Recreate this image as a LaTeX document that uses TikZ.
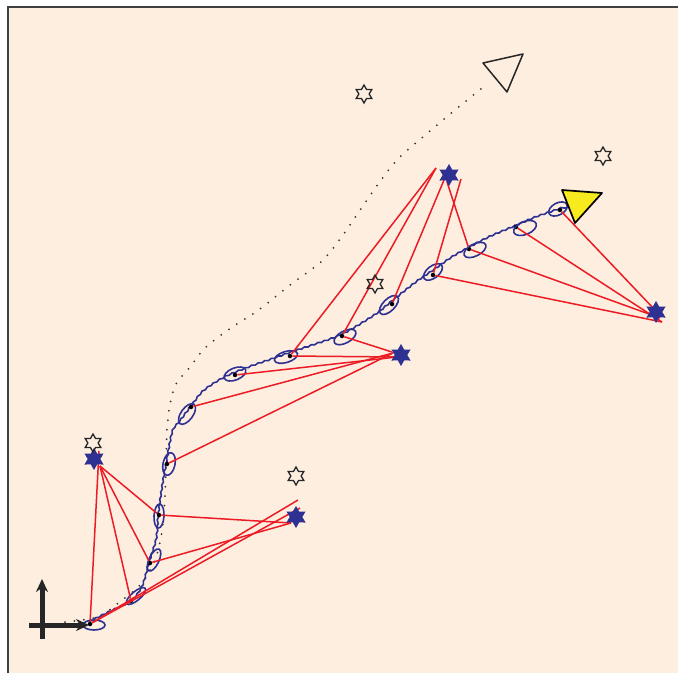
\documentclass[tikz,border=0pt]{standalone}
\usetikzlibrary{shapes.geometric,arrows.meta,decorations.pathmorphing}
\definecolor{peach}{RGB}{253,238,224}
\definecolor{trajblue}{RGB}{46,49,146}
\definecolor{rayred}{RGB}{237,28,36}
\definecolor{robyellow}{RGB}{247,234,31}
\definecolor{framegray}{RGB}{64,64,64}
\tikzset{
	pose/.style={circle,fill=black,inner sep=0pt,minimum size=4.5pt},
	lmark/.style={star,star points=6,star point ratio=1.75,fill=trajblue,draw=trajblue,line width=1pt,inner sep=0pt,minimum size=20pt},
	truelm/.style={star,star points=6,star point ratio=1.75,draw=black!85,line width=1.3pt,inner sep=0pt,minimum size=18pt},
	ray/.style={rayred,line width=1.5pt},
	cov/.style={trajblue,line width=1.6pt},
	axarrow/.style={black!85,line width=5pt,-{Stealth[length=13pt,width=12pt]}},
}
\begin{document}
\begin{tikzpicture}[x=1pt,y=-1pt]
	\useasboundingbox (0,0) rectangle (678,673);
	\fill[peach] (8,7) rectangle (678,673);
	\draw[framegray,line width=2pt] (8,673) -- (8,7) -- (678,7);
	% odometry guess
	\draw[black!80,line width=2pt,line cap=round,dash pattern=on 0pt off 9.5pt] plot[smooth] coordinates {(65,622) (98,617) (117,604) (140,585) (155,560) (162,531) (165,497) (166,460) (167,429) (170,404) (176,384) (190,367) (204,349) (221,335) (240,322) (260,309) (290,285) (322,261) (343,235) (369,197) (396,161) (430,131) (455,110) (482,88)};
	% estimated path
	\draw[trajblue,line width=1.6pt,decorate,decoration={snake,amplitude=0.6pt,segment length=7pt}] plot[smooth] coordinates {(90,623) (110,613) (132,602) (143,587) (150,563) (157,540) (159,516) (163,487) (167,464) (173,433) (180,423) (192,407) (203,393) (217,383) (230,376) (250,368) (273,360) (293,353) (317,345) (337,338) (353,330) (377,315) (393,302) (417,283) (433,272) (453,258) (469,249) (490,238) (516,227) (537,218) (560,210) (568,207)};
	% poses
	\node[pose] at (90,624) (p1) {};
	\node[pose] at (131,601) (p2) {};
	\node[pose] at (150,563) (p3) {};
	\node[pose] at (159,515) (p4) {};
	\node[pose] at (167,464) (p5) {};
	\node[pose] at (191,407) (p6) {};
	\node[pose] at (235,375) (p7) {};
	\node[pose] at (290,356) (p8) {};
	\node[pose] at (342,336) (p9) {};
	\node[pose] at (392,304) (p10) {};
	\node[pose] at (433,275) (p11) {};
	\node[pose] at (469,249) (p12) {};
	\node[pose] at (516,227) (p13) {};
	\node[pose] at (560,210) (p14) {};
	% covariances
	\draw[cov] (94,625) ellipse (11 and 5);
	\draw[cov,rotate around={40:(136,596)}] (136,596) ellipse (12 and 4.5);
	\draw[cov,rotate around={65:(154,560)}] (154,560) ellipse (12 and 5);
	\draw[cov,rotate around={87:(159,516)}] (159,516) ellipse (12 and 5);
	\draw[cov,rotate around={78:(169,464)}] (169,464) ellipse (11.5 and 6);
	\draw[cov,rotate around={54:(187,414)}] (187,414) ellipse (12 and 6);
	\draw[cov,rotate around={22:(235,374)}] (235,374) ellipse (11.5 and 6);
	\draw[cov,rotate around={17:(286,357)}] (286,357) ellipse (12 and 5.5);
	\draw[cov,rotate around={28:(345,337)}] (345,337) ellipse (12 and 6);
	\draw[cov,rotate around={45:(389,305)}] (389,305) ellipse (12 and 6);
	\draw[cov,rotate around={38:(433,272)}] (433,272) ellipse (11 and 6);
	\draw[cov,rotate around={27:(475,250)}] (475,250) ellipse (12 and 6);
	\draw[cov,rotate around={22:(525,228)}] (525,228) ellipse (12 and 6.5);
	\draw[cov,rotate around={28:(558,209)}] (558,209) ellipse (10 and 6);
	% measured landmark ends
	\coordinate (m1a) at (99,451);
	\coordinate (m1b) at (100,466);
	\coordinate (m2a) at (298,500);
	\coordinate (m2b) at (300,508);
	\coordinate (m2c) at (291,523);
	\coordinate (m3a) at (393,353);
	\coordinate (m3b) at (397,357);
	\coordinate (m3c) at (392,352);
	\coordinate (m4a) at (436,168);
	\coordinate (m4b) at (444,180);
	\coordinate (m4c) at (461,179);
	\coordinate (m4d) at (447,182);
	\coordinate (m5a) at (662,322);
	\coordinate (m5b) at (660,318);
	\coordinate (m5c) at (655,310);
	% observations
	\draw[ray] (p1) -- (m1a);
	\draw[ray] (p2) -- (m1b);
	\draw[ray] (p3) -- (m1b);
	\draw[ray] (p4) -- (m1b);
	\draw[ray] (p1) -- (m2a);
	\draw[ray] (p1) -- (m2b);
	\draw[ray] (p3) -- (m2c);
	\draw[ray] (p4) -- (m2c);
	\draw[ray] (p5) -- (m3a);
	\draw[ray] (p6) -- (m3a);
	\draw[ray] (p7) -- (m3b);
	\draw[ray] (p8) -- (m3b);
	\draw[ray] (p9) -- (m3c);
	\draw[ray] (p8) -- (m4a);
	\draw[ray] (p9) -- (m4a);
	\draw[ray] (p10) -- (m4b);
	\draw[ray] (p11) -- (m4c);
	\draw[ray] (p12) -- (m4d);
	\draw[ray] (p11) -- (m5a);
	\draw[ray] (p12) -- (m5b);
	\draw[ray] (p13) -- (m5a);
	\draw[ray] (p14) -- (m5c);
	% landmarks
	\node[lmark] at (94,459) (lm1) {};
	\node[lmark] at (296,517) (lm2) {};
	\node[lmark] at (401,355) (lm3) {};
	\node[lmark] at (449,175) (lm4) {};
	\node[lmark] at (656,312) (lm5) {};
	\node[truelm] at (93,443) (tl1) {};
	\node[truelm] at (296,476) (tl2) {};
	\node[truelm] at (375,284) (tl3) {};
	\node[truelm] at (364,94) (tl4) {};
	\node[truelm] at (603,156) (tl5) {};
	% robot
	\draw[fill=robyellow,line width=1.7pt,line join=round] (562,190) -- (602,193) -- (575,223) -- cycle;
	\draw[black!85,line width=1.5pt,line join=round] (483,63) -- (523,54) -- (507,92) -- cycle;
	% frame axes
	\coordinate (ox0) at (29,625);
	\coordinate (ox1) at (89,625);
	\coordinate (oy0) at (42,639);
	\coordinate (oy1) at (42,579);
	\draw[axarrow] (ox0) -- (ox1);
	\draw[axarrow] (oy0) -- (oy1);
\end{tikzpicture}
\end{document}
